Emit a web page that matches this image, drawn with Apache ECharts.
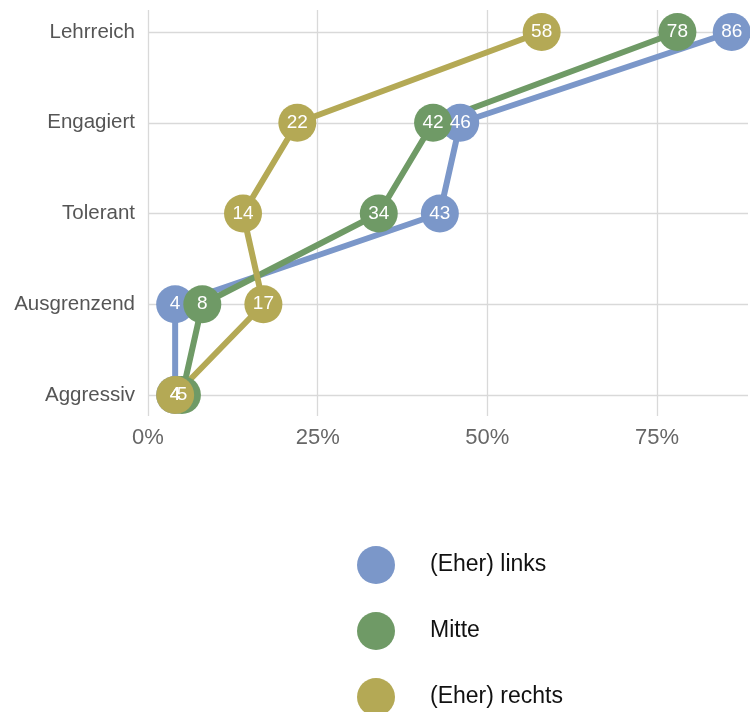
<!DOCTYPE html>
<html>
<head>
<meta charset="utf-8">
<script src="https://cdn.jsdelivr.net/npm/echarts@6/dist/echarts.min.js"></script>
<style>
  html, body { margin: 0; padding: 0; background: #fff; }
  #chart { width: 750px; height: 712px; }
</style>
</head>
<body>
<div id="chart"></div>
<script>
// Kategorien von oben nach unten
const categories = ["Lehrreich", "Engagiert", "Tolerant", "Ausgrenzend", "Aggressiv"];
const seriesNames = ["(Eher) links", "Mitte", "(Eher) rechts"];
const links = [86, 46, 43, 4, 4];
const mitte = [78, 42, 34, 8, 5];
const rechts = [58, 22, 14, 17, 4];
const xTicks = [0, 25, 50, 75];

const colors = ["#7b97c9", "#6f9a66", "#b4a955"];
const font = "Helvetica, Arial, 'Liberation Sans', sans-serif";

const chart = echarts.init(document.getElementById("chart"));

const mkSeries = (name, data, color) => ({
  name: name,
  type: "line",
  xAxisIndex: 1,
  yAxisIndex: 1,
  data: data.map((v, i) => [v, categories[i]]),
  symbol: "circle",
  symbolSize: 38,
  itemStyle: { color: color },
  lineStyle: { color: color, width: 6 },
  label: {
    show: true,
    position: "inside",
    color: "#fff",
    fontSize: 19,
    fontFamily: font,
    formatter: (p) => p.value[0],
  },
  emphasis: { disabled: true },
  animation: false,
});

// eine Legende pro Eintrag, damit nichts umbricht
const mkLegend = (name, top) => ({
  orient: "vertical",
  left: 352,
  top: top,
  icon: "circle",
  itemWidth: 38,
  itemHeight: 38,
  textStyle: { color: "#111", fontSize: 23, fontFamily: font, padding: [0, 0, 0, 30] },
  data: [name],
});

const option = {
  backgroundColor: "#fff",
  grid: [
    // Hintergrund-Panel mit senkrechten Gitterlinien
    { left: 148, right: 2, top: 10, bottom: 296 },
    // Panel für die Kategorien
    { left: 148, right: 2, top: 32, bottom: 317 },
  ],
  xAxis: [
    {
      gridIndex: 0,
      type: "value",
      min: 0,
      max: 88.4,
      interval: 25,
      axisLine: { show: false },
      axisTick: { show: false },
      splitLine: { show: true, showMaxLine: false, lineStyle: { color: "#d9d9d9", width: 1.3 } },
      axisLabel: {
        color: "#666",
        fontSize: 22,
        fontFamily: font,
        margin: 11,
        showMaxLabel: false,
        formatter: (v) => (xTicks.includes(v) ? v + "%" : ""),
      },
    },
    {
      gridIndex: 1,
      type: "value",
      min: 0,
      max: 88.4,
      show: false,
    },
  ],
  yAxis: [
    {
      gridIndex: 0,
      type: "value",
      min: 0,
      max: 1,
      show: false,
    },
    {
      gridIndex: 1,
      type: "category",
      data: categories,
      inverse: true,
      boundaryGap: false,
      axisLine: { show: false },
      axisTick: { show: false },
      splitLine: { show: true, lineStyle: { color: "#d9d9d9", width: 1.3 } },
      axisLabel: {
        color: "#555",
        fontSize: 20.5,
        fontFamily: font,
        margin: 13,
      },
    },
  ],
  legend: [
    mkLegend(seriesNames[0], 541),
    mkLegend(seriesNames[1], 607),
    mkLegend(seriesNames[2], 673),
  ],
  series: [
    mkSeries(seriesNames[0], links, colors[0]),
    mkSeries(seriesNames[1], mitte, colors[1]),
    mkSeries(seriesNames[2], rechts, colors[2]),
  ],
};

chart.setOption(option);
window.addEventListener("resize", () => chart.resize());
</script>
</body>
</html>
